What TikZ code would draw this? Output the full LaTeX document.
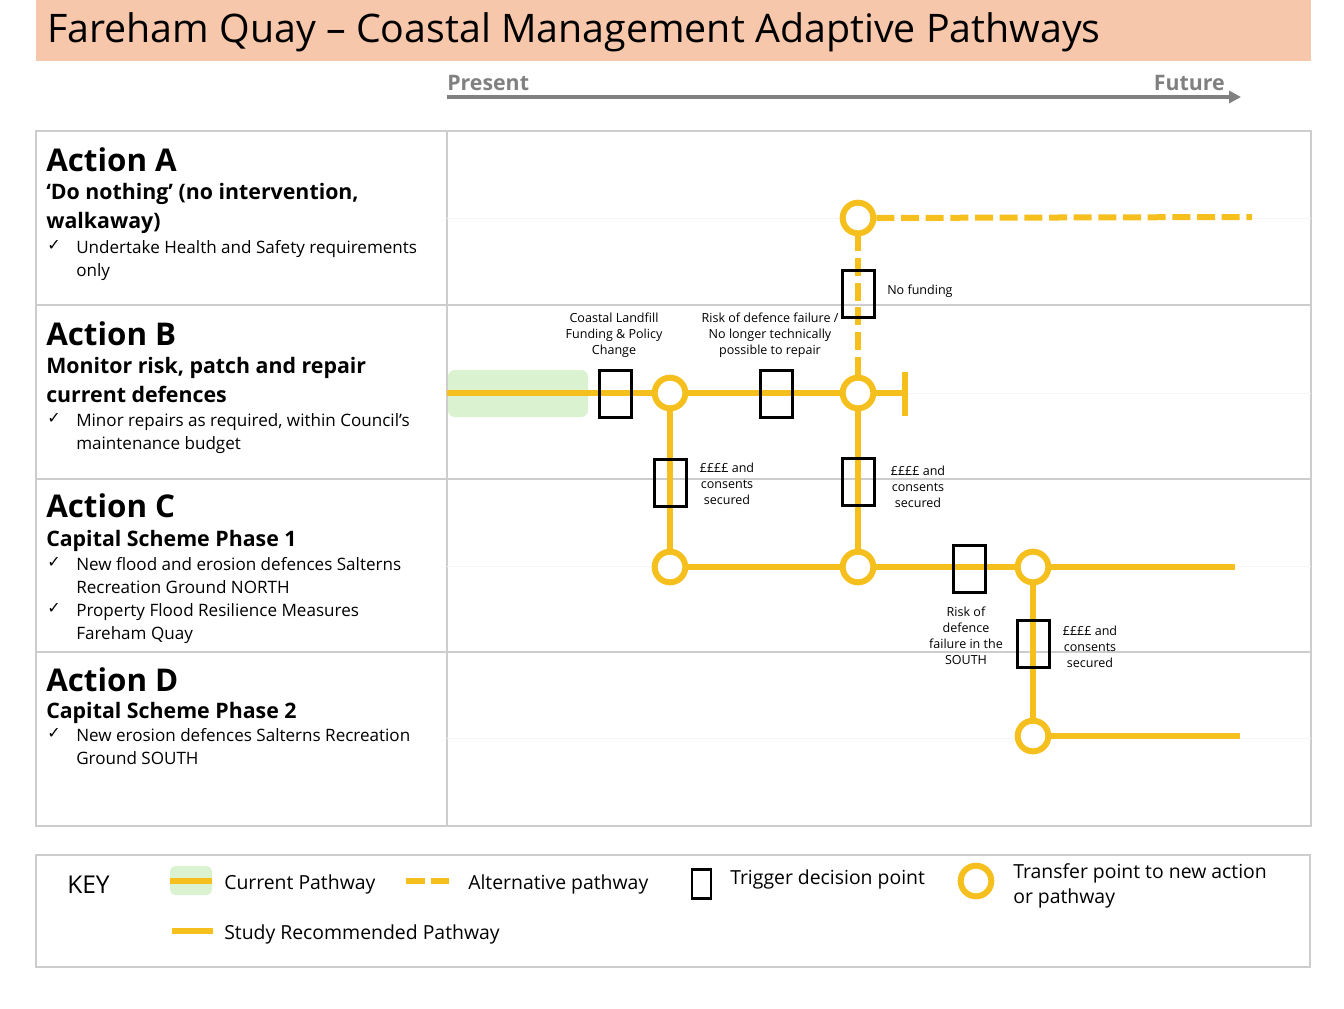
\documentclass[tikz,border=0pt]{standalone}
\usepackage{fontspec}
\setmainfont{Open Sans}
\newfontfamily\symfont{DejaVu Sans}
\usetikzlibrary{arrows.meta}
\definecolor{titlepeach}{RGB}{247,199,172}
\definecolor{pathyellow}{RGB}{245,192,30}
\definecolor{currentgreen}{RGB}{218,242,208}
\definecolor{gridgray}{RGB}{205,205,205}
\definecolor{timegray}{RGB}{128,128,128}
\newcommand{\fsz}[2]{\fontsize{#1}{#2}\selectfont}
\begin{document}
\begin{tikzpicture}[x=0.75pt,y=0.75pt,yscale=-1,xscale=1,
  pathline/.style={draw=pathyellow, line width=4.5pt},
  altline/.style={pathline, dash pattern=on 13.5pt off 5pt},
  transfer/.style={circle, draw=pathyellow, line width=4.5pt, fill=white, minimum size=23pt, inner sep=0pt},
  trigger/.style={rectangle, draw=black, line width=2.25pt, minimum width=24pt, minimum height=35pt, inner sep=0pt},
  gridline/.style={draw=gridgray, line width=1.1pt},
  acthead/.style={anchor=north west, inner sep=0pt, font=\fsz{23.5}{28}\bfseries},
  actsub/.style={anchor=north west, inner sep=0pt, align=left, font=\fsz{16}{21.5}\bfseries},
  actitem/.style={anchor=north west, inner sep=0pt, align=left, font=\fsz{12.8}{17.25}},
  chk/.style={anchor=north west, inner sep=0pt, font=\symfont\fsz{12}{14}},
  lbl/.style={anchor=north, inner sep=0pt, align=center, font=\fsz{9.4}{12}},
  keytext/.style={anchor=west, inner sep=0pt, align=left, font=\fsz{14.55}{18.75}}]
\useasboundingbox (0,0) rectangle (1344,1008);

%Shape: Rectangle (title band)
\fill [titlepeach] (36,0) rectangle (1311,61);
% Text Node
\draw (47,12) node [anchor=north west] [inner sep=0pt] [font=\fsz{29.5}{34}] (title) {Fareham Quay -- Coastal Management Adaptive Pathways};

%Time axis
\draw (447,83) node [anchor=west] [inner sep=0pt] [font=\fsz{16}{19}\bfseries, text=timegray] (present) {Present};
\draw (1225,83) node [anchor=east] [inner sep=0pt] [font=\fsz{16}{19}\bfseries, text=timegray] (future) {Future};
\coordinate (tstart) at (447,97);
\coordinate (tend) at (1241,97);
\draw [draw=timegray, line width=3pt, -{Triangle[length=9pt,width=9pt]}] (tstart) -- (tend);

%Shape: Table grid
\draw [gridline] (36,131) rectangle (1311,826);
\draw [gridline] (447,131) -- (447,826);
\draw [gridline] (36,305) -- (1311,305);
\draw [gridline] (36,479) -- (1311,479);
\draw [gridline] (36,652) -- (1311,652);
%Straight Lines (faint row centres)
\draw [draw=gray!8, line width=0.75pt] (447,218) -- (1311,218) (447,393) -- (1311,393) (447,566) -- (1311,566) (447,738) -- (1311,738);

% Text Node (Action A)
\draw (46,147) node [acthead] (headA) {Action A};
\draw (46,183) node [actsub] (subA) {‘Do nothing’ (no intervention,\\walkaway)};
\draw (47,240) node [chk] (chkA) {✓};
\draw (76,240) node [actitem] (itemA) {Undertake Health and Safety requirements\\only};
% Text Node (Action B)
\draw (46,321) node [acthead] (headB) {Action B};
\draw (46,357) node [actsub] (subB) {Monitor risk, patch and repair\\current defences};
\draw (47,413) node [chk] (chkB) {✓};
\draw (76,413) node [actitem] (itemB) {Minor repairs as required, within Council’s\\maintenance budget};
% Text Node (Action C)
\draw (46,493) node [acthead] (headC) {Action C};
\draw (46,530) node [actsub] (subC) {Capital Scheme Phase 1};
\draw (47,557) node [chk] (chkC1) {✓};
\draw (76,557) node [actitem] (itemC1) {New flood and erosion defences Salterns\\Recreation Ground NORTH};
\draw (47,603) node [chk] (chkC2) {✓};
\draw (76,603) node [actitem] (itemC2) {Property Flood Resilience Measures\\Fareham Quay};
% Text Node (Action D)
\draw (46,667) node [acthead] (headD) {Action D};
\draw (46,702) node [actsub] (subD) {Capital Scheme Phase 2};
\draw (47,728) node [chk] (chkD) {✓};
\draw (76,728) node [actitem] (itemD) {New erosion defences Salterns Recreation\\Ground SOUTH};

%Shape: Rounded Rectangle (current pathway)
\fill [currentgreen, rounded corners=5pt] (448,370) rectangle (588,417);

%Transfer points
\node [transfer] (tA1) at (858,218) {};
\node [transfer] (tB1) at (670,393) {};
\node [transfer] (tB2) at (858,393) {};
\node [transfer] (tC1) at (670,567) {};
\node [transfer] (tC2) at (858,567) {};
\node [transfer] (tC3) at (1033,567) {};
\node [transfer] (tD1) at (1033,736) {};
\coordinate (bstart) at (447,393);
\coordinate (bend) at (905,393);
\coordinate (bendtop) at (905,372);
\coordinate (bendbot) at (905,416);
\coordinate (aend) at (1252,217);
\coordinate (cend) at (1235,567);
\coordinate (dend) at (1240,736);

%Pathways
\draw [pathline] (bstart) -- (tB1);
\draw [pathline] (tB1) -- (tB2);
\draw [pathline] (tB2) -- (bend);
\draw [pathline] (bendtop) -- (bendbot);
\draw [pathline] (tB1) -- (tC1);
\draw [pathline] (tB2) -- (tC2);
\draw [pathline] (tC1) -- (tC2);
\draw [pathline] (tC2) -- (tC3);
\draw [pathline] (tC3) -- (cend);
\draw [pathline] (tC3) -- (tD1);
\draw [pathline] (tD1) -- (dend);
\draw [altline] (tB2) -- (tA1);
\draw [altline] (tA1) -- (aend);

%Trigger decision points
\node [trigger] (trB1) at (615.5,394) {};
\node [trigger] (trB2) at (776,394) {};
\node [trigger] (trAB) at (858,294) {};
\node [trigger] (trBC1) at (670,483) {};
\node [trigger] (trBC2) at (858,482) {};
\node [trigger] (trC) at (969.5,569) {};
\node [trigger] (trCD) at (1033,644) {};

% Text Node (trigger labels)
\draw (614,313) node [lbl] (lblB1) {Coastal Landfill\\Funding \& Policy\\Change};
\draw (770,313) node [lbl] (lblB2) {Risk of defence failure /\\No longer technically\\possible to repair};
\draw (887,291) node [lbl, anchor=west] (lblAB) {No funding};
\draw (727,463) node [lbl] (lblBC1) {££££ and\\consents\\secured};
\draw (918,466) node [lbl] (lblBC2) {££££ and\\consents\\secured};
\draw (966,607) node [lbl] (lblC) {Risk of\\defence\\failure in the\\SOUTH};
\draw (1090,626) node [lbl] (lblCD) {££££ and\\consents\\secured};

%Key
\draw [gridline] (36,855) rectangle (1310,967);
\draw (67,885) node [keytext, font=\fsz{18.4}{22}] (keyhead) {KEY};
\fill [currentgreen, rounded corners=4pt] (170,866) rectangle (212,895);
\coordinate (kcurA) at (170,881);
\coordinate (kcurB) at (212,881);
\draw [pathline] (kcurA) -- (kcurB);
\draw (224,884) node [keytext] (kcur) {Current Pathway};
\coordinate (kaltA) at (406,881);
\coordinate (kaltB) at (449,881);
\draw [pathline, dash pattern=on 14.25pt off 4.5pt] (kaltA) -- (kaltB);
\draw (468,884) node [keytext] (kalt) {Alternative pathway};
\node [trigger, line width=1.9pt, minimum width=14.5pt, minimum height=22pt] (ktrig) at (701.5,884) {};
\draw (730,879) node [keytext] (ktrigtext) {Trigger decision point};
\node [transfer, minimum size=23pt] (ktrans) at (976,881) {};
\draw (1013,886) node [keytext] (ktranstext) {Transfer point to new action\\or pathway};
\coordinate (kstudyA) at (172,931);
\coordinate (kstudyB) at (213,931);
\draw [pathline] (kstudyA) -- (kstudyB);
\draw (224,934) node [keytext] (kstudy) {Study Recommended Pathway};

\end{tikzpicture}
\end{document}
